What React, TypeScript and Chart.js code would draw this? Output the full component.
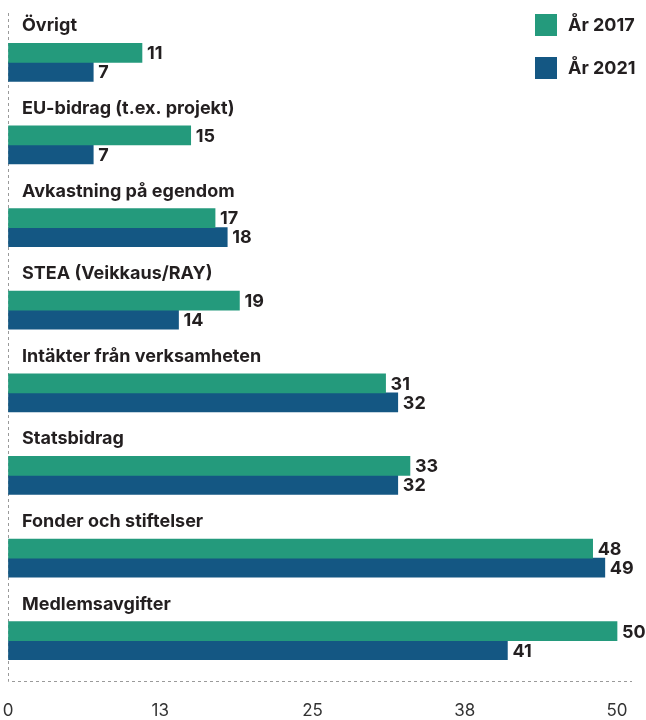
import React, { useEffect, useRef } from "react";
import { Chart, registerables } from "chart.js";

Chart.register(...registerables);

const categories = [
  "Övrigt",
  "EU-bidrag (t.ex. projekt)",
  "Avkastning på egendom",
  "STEA (Veikkaus/RAY)",
  "Intäkter från verksamheten",
  "Statsbidrag",
  "Fonder och stiftelser",
  "Medlemsavgifter",
];
const series2017 = [11, 15, 17, 19, 31, 33, 48, 50];
const series2021 = [7, 7, 18, 14, 32, 32, 49, 41];
const seriesNames = ["År 2017", "År 2021"];
const tickValues = [0, 12.5, 25, 37.5, 50];

const GREEN = "#249a7c";
const BLUE = "#145783";
const TEXT = "#231f20";
const FONT = "Inter, 'Noto Sans', sans-serif";

const decorPlugin = {
  id: "decor",
  beforeDatasetsDraw(chart: any) {
    const { ctx, chartArea } = chart;
    ctx.save();
    ctx.strokeStyle = "#9a9a9a";
    ctx.lineWidth = 1;
    ctx.setLineDash([3, 3]);
    ctx.beginPath();
    ctx.moveTo(chartArea.left + 0.5, 13);
    ctx.lineTo(chartArea.left + 0.5, chartArea.bottom - 0.5);
    ctx.lineTo(chartArea.right, chartArea.bottom - 0.5);
    ctx.stroke();
    ctx.restore();
  },
  afterDatasetsDraw(chart: any) {
    const { ctx, chartArea } = chart;
    const yScale = chart.scales.y;
    ctx.save();
    ctx.fillStyle = TEXT;
    // category labels
    ctx.font = `bold 18px ${FONT}`;
    ctx.textAlign = "left";
    ctx.textBaseline = "alphabetic";
    categories.forEach((c, i) => {
      const yc = yScale.getPixelForValue(i);
      ctx.fillText(c, chartArea.left + 14, yc - 31);
    });
    // value labels
    ctx.font = `bold 18px ${FONT}`;
    ctx.textBaseline = "middle";
    chart.data.datasets.forEach((ds: any, di: number) => {
      const meta = chart.getDatasetMeta(di);
      meta.data.forEach((el: any, i: number) => {
        ctx.fillText(String(ds.data[i]), el.x + 5, el.y + 1);
      });
    });
    // legend
    const colors = [GREEN, BLUE];
    ctx.font = `bold 18px ${FONT}`;
    ctx.textBaseline = "middle";
    seriesNames.forEach((n, i) => {
      const top = 14 + i * 43;
      ctx.fillStyle = colors[i];
      ctx.fillRect(535, top, 22, 22);
      ctx.fillStyle = TEXT;
      ctx.fillText(n, 568, top + 12);
    });
    ctx.restore();
  },
};

export default function App() {
  const ref = useRef<HTMLCanvasElement>(null);
  useEffect(() => {
    document.body.style.margin = "0";
    const chart = new Chart(ref.current!, {
      type: "bar",
      data: {
        labels: categories,
        datasets: [
          { label: seriesNames[0], data: series2017, backgroundColor: GREEN, barThickness: 19 },
          { label: seriesNames[1], data: series2021, backgroundColor: BLUE, barThickness: 19 },
        ],
      },
      options: {
        indexAxis: "y",
        responsive: false,
        animation: false,
        devicePixelRatio: 1,
        layout: { padding: { left: 8, right: 14, top: 21, bottom: 0 } },
        plugins: { legend: { display: false }, tooltip: { enabled: false } },
        scales: {
          y: { display: false },
          x: {
            min: 0,
            max: 51.23,
            grid: {
              display: true,
              drawOnChartArea: false,
              drawTicks: true,
              tickLength: 19,
              color: "rgba(0,0,0,0)",
            },
            border: { display: false },
            afterBuildTicks: (s: any) => {
              s.ticks = tickValues.map((v) => ({ value: v }));
            },
            afterFit: (s: any) => {
              s.height = 38;
            },
            ticks: {
              padding: 0,
              color: "#333",
              font: { family: FONT, size: 17 },
              maxRotation: 0,
              callback: (v: any) => String(Math.round(Number(v))),
            },
          },
        },
      },
      plugins: [decorPlugin],
    });
    return () => chart.destroy();
  }, []);
  return (
    <div style={{ width: 646, height: 720 }}>
      <canvas ref={ref} width={646} height={720} />
    </div>
  );
}
